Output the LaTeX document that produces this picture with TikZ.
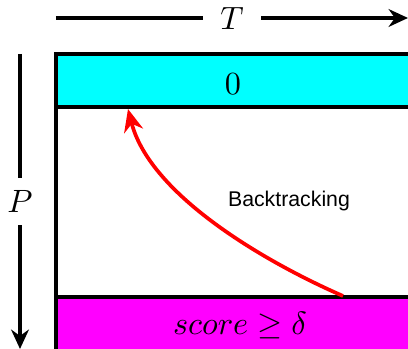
\documentclass[tikz,border=0pt]{standalone}
\usepackage{fontspec}
\newfontfamily\labelfont{Liberation Sans}
\usetikzlibrary{arrows.meta}
\definecolor{topband}{RGB}{0,255,255}
\definecolor{botband}{RGB}{255,0,255}
\definecolor{backred}{RGB}{255,0,0}
\begin{document}
\begin{tikzpicture}[x=0.31pt,y=-0.31pt,
  axis/.style={line width=1.15pt,-{Stealth[length=6pt,width=5.5pt]}},
  band/.style={line width=1.15pt,draw=black},
  back/.style={line width=1.15pt,backred,-{Stealth[length=7pt,width=6pt]}}]
\useasboundingbox (0,0) rectangle (408,349);
% axes
\coordinate (t0) at (56,18);
\coordinate (t1) at (408,18);
\coordinate (p0) at (20,54);
\coordinate (p1) at (20,349);
\draw[axis] (t0) -- node[fill=white,inner xsep=5.5pt,inner ysep=1pt] (T) {$T$} (t1);
\draw[axis] (p0) -- node[fill=white,inner ysep=4pt,inner xsep=1pt] (P) {$P$} (p1);
% bands
\fill[white] (56,54) rectangle (420,360);
\filldraw[band,fill=topband] (56,54) rectangle (420,107);
\filldraw[band,fill=botband] (56,297) rectangle (420,360);
\draw[band] (56,54) -- (56,360);
\node (zero) at (233,84) {$0$};
\node (score) at (240,326) {$score \geq \delta$};
\node (bt) at (289,201) {\labelfont\fontsize{6.6pt}{8pt}\selectfont Backtracking};
% backtracking arrow
\coordinate (b0) at (343,296);
\coordinate (b1) at (128,109);
\draw[back] (b0) .. controls (265,262) and (150,195) .. (b1);
\end{tikzpicture}
\end{document}
